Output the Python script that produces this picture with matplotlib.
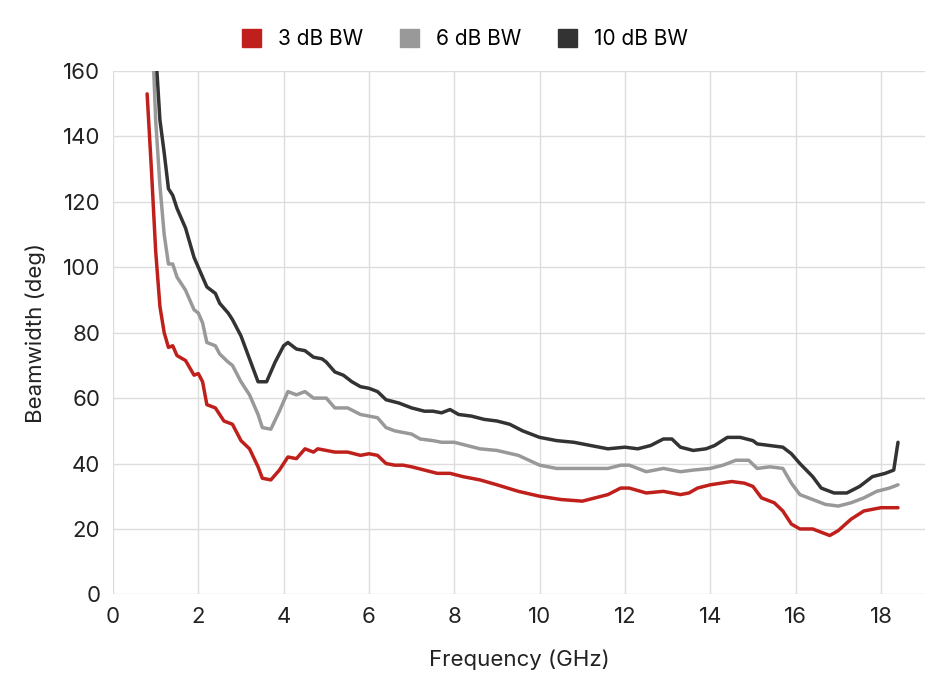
import matplotlib
matplotlib.use("Agg")
import matplotlib.pyplot as plt
from matplotlib.patches import Patch

plt.rcParams['font.family'] = ['Inter', 'DejaVu Sans']

x3 = [0.8,0.9,1.0,1.1,1.2,1.3,1.4,1.5,1.7,1.9,2.0,2.1,2.2,2.4,2.6,2.8,3.0,3.2,3.4,3.5,3.7,3.9,4.1,4.3,4.5,4.7,4.8,5.0,5.2,5.5,5.8,6.0,6.2,6.4,6.6,6.8,7.0,7.3,7.6,7.9,8.2,8.6,9.0,9.5,10,10.5,11,11.3,11.6,11.9,12.1,12.5,12.9,13.1,13.3,13.5,13.7,14,14.5,14.8,15.0,15.2,15.5,15.7,15.9,16.1,16.4,16.6,16.8,17.0,17.3,17.6,18.0,18.4]
y3 = [153,130,105,88,80,75.5,76,73,71.5,67,67.5,65,58,57,53,52,47,44.5,39,35.5,35,38,42,41.5,44.5,43.5,44.5,44,43.5,43.5,42.5,43,42.5,40,39.5,39.5,39,38,37,37,36,35,33.5,31.5,30,29,28.5,29.5,30.5,32.5,32.5,31,31.5,31,30.5,31,32.5,33.5,34.5,34,33,29.5,28,25.5,21.5,20,20,19,18,19.5,23,25.5,26.5,26.5]

x6 = [0.95,1.0,1.1,1.2,1.3,1.4,1.5,1.7,1.9,2.0,2.1,2.2,2.4,2.5,2.7,2.8,3.0,3.2,3.4,3.5,3.7,3.9,4.1,4.3,4.5,4.7,5.0,5.2,5.5,5.8,6.0,6.2,6.4,6.6,6.8,7.0,7.2,7.5,7.7,8.0,8.3,8.6,9.0,9.5,10,10.4,11,11.3,11.6,11.9,12.1,12.5,12.9,13.3,13.6,14,14.3,14.6,14.9,15.1,15.4,15.7,15.9,16.1,16.4,16.7,17.0,17.3,17.6,17.9,18.2,18.4]
y6 = [162,145,125,110,101,101,97,93,87,86,83,77,76,73.5,71,70,65,61,55,51,50.5,56,62,61,62,60,60,57,57,55,54.5,54,51,50,49.5,49,47.5,47,46.5,46.5,45.5,44.5,44,42.5,39.5,38.5,38.5,38.5,38.5,39.5,39.5,37.5,38.5,37.5,38,38.5,39.5,41,41,38.5,39,38.5,34,30.5,29,27.5,27,28,29.5,31.5,32.5,33.5]

x10 = [1.02,1.1,1.2,1.3,1.4,1.5,1.7,1.9,2.0,2.2,2.4,2.5,2.7,2.8,3.0,3.2,3.4,3.6,3.8,4.0,4.1,4.3,4.5,4.7,4.9,5.0,5.2,5.4,5.6,5.8,6.0,6.2,6.4,6.7,7.0,7.3,7.5,7.7,7.9,8.1,8.4,8.7,9.0,9.3,9.6,10,10.4,10.8,11.2,11.6,12,12.3,12.6,12.9,13.1,13.3,13.6,13.9,14.1,14.4,14.7,15.0,15.1,15.4,15.7,15.9,16.1,16.4,16.6,16.9,17.2,17.5,17.8,18.1,18.3,18.4]
y10 = [162,145,135,124,122,118,112,103,100,94,92,89,86,84,79,72,65,65,71,76,77,75,74.5,72.5,72,71,68,67,65,63.5,63,62,59.5,58.5,57,56,56,55.5,56.5,55,54.5,53.5,53,52,50,48,47,46.5,45.5,44.5,45,44.5,45.5,47.5,47.5,45,44,44.5,45.5,48,48,47,46,45.5,45,43,40,36,32.5,31,31,33,36,37,38,46.5]

labels = ['3 dB BW', '6 dB BW', '10 dB BW']
colors = ['#c0201c', '#999999', '#333333']

fig = plt.figure(figsize=(9.3, 6.96), dpi=100)
ax = fig.add_axes([0.1215, 0.146, 0.873, 0.752])
for xs, ys, c in [(x3, y3, colors[0]), (x6, y6, colors[1]), (x10, y10, colors[2])]:
    ax.plot(xs, ys, color=c, lw=2.5, solid_joinstyle='round', solid_capstyle='round')
ax.set_xlim(0, 19.03)
ax.set_ylim(0, 160)
ax.set_xticks(range(0, 19, 2))
ax.set_yticks(range(0, 161, 20))
ax.grid(True, color='#dddddd', lw=1)
ax.set_axisbelow(True)
for s in ax.spines.values():
    s.set_visible(False)
ax.tick_params(length=0, labelsize=16, colors='#222222', pad=9)
ax.set_xlabel('Frequency (GHz)', fontsize=16, color='#222222', labelpad=16)
ax.set_ylabel('Beamwidth (deg)', fontsize=16, color='#222222', labelpad=12)
handles = [Patch(color=c, label=l) for c, l in zip(colors, labels)]
fig.legend(handles=handles, loc='upper center', bbox_to_anchor=(0.5, 0.985), ncol=3,
           frameon=False, fontsize=15, handlelength=0.9, handleheight=0.9, columnspacing=1.8)
fig.savefig('out.png', dpi=100)
